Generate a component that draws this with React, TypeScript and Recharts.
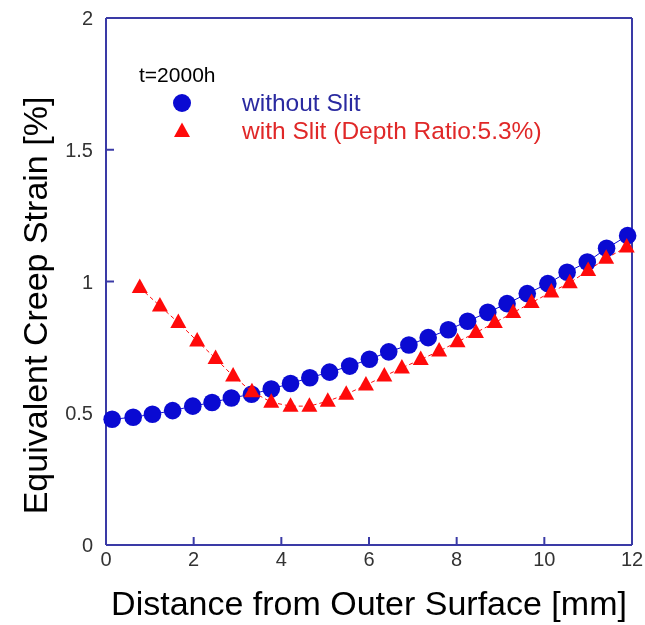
import React from 'react';
import { ScatterChart, Scatter, XAxis, YAxis, Legend } from 'recharts';

const xTicks = [0, 2, 4, 6, 8, 10, 12];
const yTicks = [0, 0.5, 1, 1.5, 2];

const distWithout = [0.14, 0.62, 1.06, 1.52, 1.98, 2.42, 2.86, 3.32, 3.77, 4.21, 4.65, 5.1, 5.56, 6.01, 6.45, 6.91, 7.35, 7.81, 8.25, 8.71, 9.15, 9.61, 10.08, 10.52, 10.98, 11.42, 11.9];
const strainWithout = [0.477, 0.485, 0.496, 0.51, 0.527, 0.541, 0.558, 0.572, 0.592, 0.613, 0.635, 0.656, 0.679, 0.705, 0.733, 0.759, 0.787, 0.817, 0.849, 0.883, 0.916, 0.954, 0.992, 1.035, 1.074, 1.126, 1.174];

const distWith = [0.77, 1.23, 1.65, 2.08, 2.5, 2.9, 3.33, 3.77, 4.21, 4.64, 5.06, 5.48, 5.93, 6.35, 6.75, 7.18, 7.6, 8.02, 8.44, 8.87, 9.29, 9.71, 10.16, 10.58, 11.0, 11.41, 11.88];
const strainWith = [0.977, 0.907, 0.844, 0.774, 0.708, 0.641, 0.582, 0.542, 0.527, 0.527, 0.546, 0.572, 0.607, 0.641, 0.672, 0.704, 0.736, 0.771, 0.806, 0.844, 0.882, 0.92, 0.96, 0.995, 1.042, 1.088, 1.131];

const dataWithout = distWithout.map((x, i) => ({ x, y: strainWithout[i] }));
const dataWith = distWith.map((x, i) => ({ x, y: strainWith[i] }));

const FRAME = '#3a3aa6';
const BLUE = '#0a0ad2';
const RED = '#ff0a0a';
const FONT = '"Liberation Sans", Arial, sans-serif';

const CircleShape = (props: any) => {
  const { cx, cy } = props;
  if (cx == null || cy == null) return null;
  return <circle cx={cx} cy={cy} r={8.8} fill={BLUE} />;
};

const TriangleShape = (props: any) => {
  const { cx, cy } = props;
  if (cx == null || cy == null) return null;
  const pts = `${cx},${cy - 9} ${cx - 8},${cy + 5.5} ${cx + 8},${cy + 5.5}`;
  return <polygon points={pts} fill={RED} />;
};

const renderLegend = () => (
  <svg width={470} height={95} style={{ display: 'block', overflow: 'visible' }}>
    <text x={9} y={22} fontFamily={FONT} fontSize={21} fill="#000">t=2000h</text>
    <circle cx={52} cy={43} r={9} fill={BLUE} />
    <text x={112} y={51} fontFamily={FONT} fontSize={24.5} fill="#2a2aa0">without Slit</text>
    <polygon points="52,62.5 44,77 60,77" fill={RED} />
    <text x={112} y={79} fontFamily={FONT} fontSize={24.5} fill="#e02828">with Slit (Depth Ratio:5.3%)</text>
  </svg>
);

const YTitle = (props: any) => {
  const { viewBox } = props;
  const cx = viewBox.x + 27;
  const cy = viewBox.y + viewBox.height / 2 + 24;
  return (
    <text x={cx} y={cy} transform={`rotate(-90, ${cx}, ${cy})`} textAnchor="middle" dominantBaseline="central" fontFamily={FONT} fontSize={34} fill="#000">
      Equivalent Creep Strain [%]
    </text>
  );
};

const XTitle = (props: any) => {
  const { viewBox } = props;
  const cx = viewBox.x + viewBox.width / 2;
  return (
    <text x={cx} y={607} textAnchor="middle" fontFamily={FONT} fontSize={34} fill="#000">
      Distance from Outer Surface [mm]
    </text>
  );
};

const tickStyle = { fontFamily: FONT, fontSize: 20, fill: '#333' };

export default function App() {
  return (
    <div style={{ position: 'fixed', left: 8, top: 8, width: 637, height: 617 }}>
      <ScatterChart width={637} height={617} margin={{ top: 0, right: 0, bottom: 0, left: 0 }}>
        <XAxis
          xAxisId="b"
          type="number"
          dataKey="x"
          domain={[0, 12]}
          ticks={xTicks}
          height={80}
          tickSize={-8}
          tickMargin={15}
          axisLine={{ stroke: FRAME, strokeWidth: 2 }}
          tickLine={{ stroke: FRAME, strokeWidth: 2 }}
          tick={tickStyle}
          interval={0}
          label={<XTitle />}
        />
        <XAxis
          xAxisId="t"
          orientation="top"
          type="number"
          domain={[0, 12]}
          ticks={xTicks}
          height={10}
          tickSize={-8}
          axisLine={{ stroke: FRAME, strokeWidth: 2 }}
          tickLine={{ stroke: FRAME, strokeWidth: 2 }}
          tick={false}
          interval={0}
        />
        <YAxis
          yAxisId="l"
          type="number"
          dataKey="y"
          domain={[0, 2]}
          ticks={yTicks}
          width={98}
          tickSize={-8}
          tickMargin={21}
          axisLine={{ stroke: FRAME, strokeWidth: 2 }}
          tickLine={{ stroke: FRAME, strokeWidth: 2 }}
          tick={tickStyle}
          interval={0}
          label={<YTitle />}
        />
        <YAxis
          yAxisId="r"
          orientation="right"
          type="number"
          domain={[0, 2]}
          ticks={yTicks}
          width={13}
          tickSize={-8}
          axisLine={{ stroke: FRAME, strokeWidth: 2 }}
          tickLine={{ stroke: FRAME, strokeWidth: 2 }}
          tick={false}
          interval={0}
        />
        <Legend
          layout="vertical"
          align="center"
          verticalAlign="middle"
          content={renderLegend}
          wrapperStyle={{ position: 'absolute', left: 122, top: 52, width: 470, height: 95 }}
        />
        <Scatter
          name="without Slit"
          data={dataWithout}
          xAxisId="b"
          yAxisId="l"
          shape={<CircleShape />}
          line={{ stroke: BLUE, strokeWidth: 1 }}
          lineType="joint"
          isAnimationActive={false}
        />
        <Scatter
          name="with Slit (Depth Ratio:5.3%)"
          data={dataWith}
          xAxisId="b"
          yAxisId="l"
          shape={<TriangleShape />}
          line={{ stroke: RED, strokeWidth: 1, strokeDasharray: '4 3' }}
          lineType="joint"
          isAnimationActive={false}
        />
      </ScatterChart>
    </div>
  );
}
